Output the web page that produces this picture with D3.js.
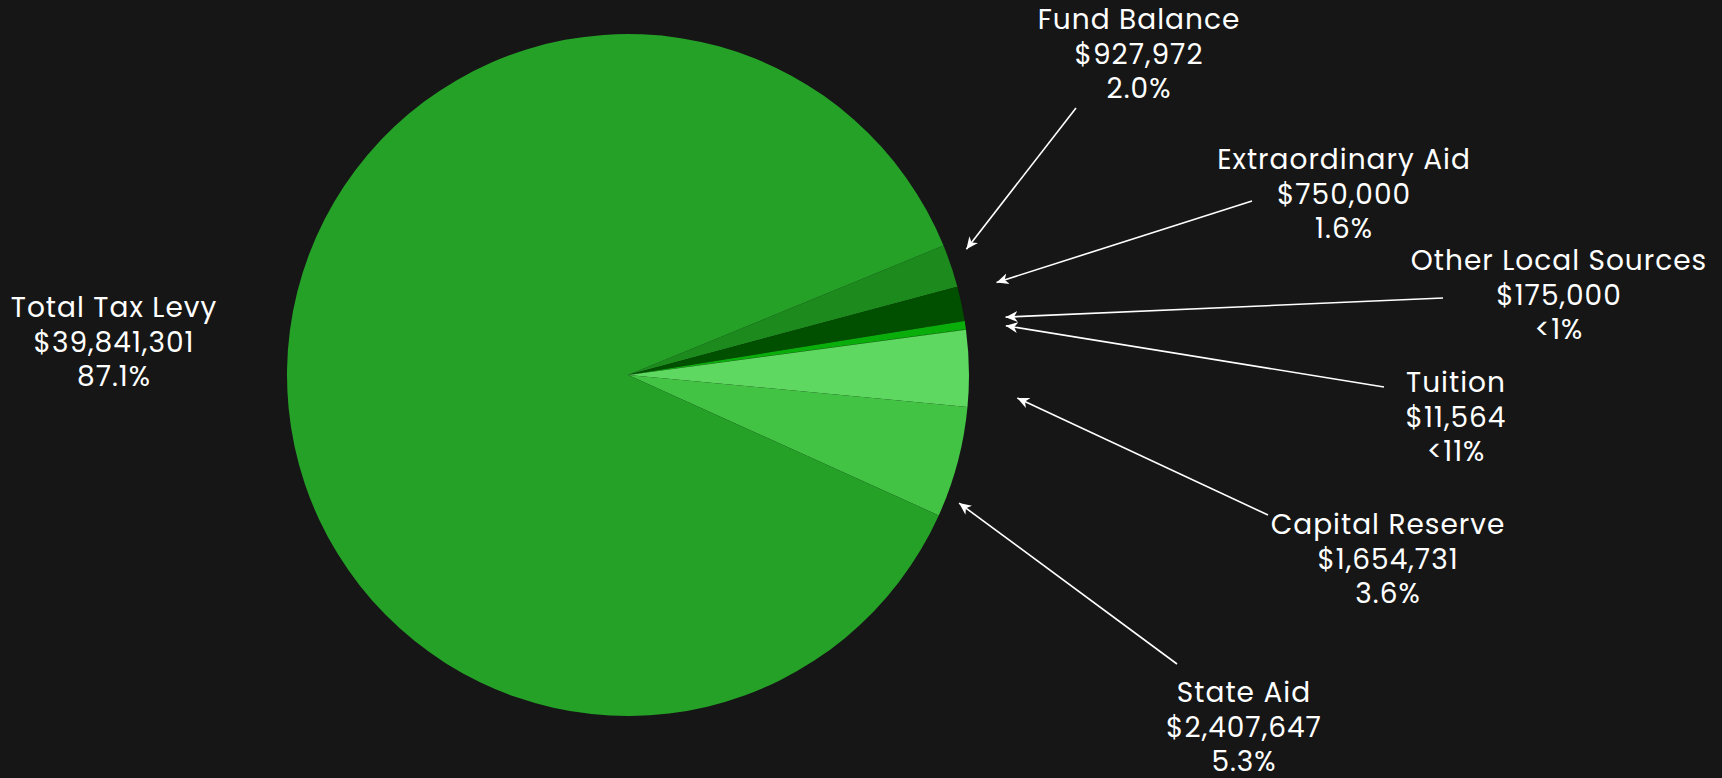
<!DOCTYPE html>
<html>
<head>
<meta charset="utf-8">
<script src="https://cdn.jsdelivr.net/npm/d3@7/dist/d3.min.js"></script>
<style>
  html, body { margin: 0; padding: 0; background: #161616; }
  svg { display: block; }
  text { font-family: Poppins, "DejaVu Sans", sans-serif; fill: #ffffff; }
</style>
</head>
<body>
<svg id="chart" width="1722" height="778"></svg>
<script>
// ---- data ----
const categories = ["Fund Balance", "Extraordinary Aid", "Other Local Sources", "Tuition", "Capital Reserve", "State Aid", "Total Tax Levy"];
const values = [927972, 750000, 175000, 11564, 1654731, 2407647, 39841301];
const valueLabels = ["$927,972", "$750,000", "$175,000", "$11,564", "$1,654,731", "$2,407,647", "$39,841,301"];
const pctLabels = ["2.0%", "1.6%", "<1%", "<11%", "3.6%", "5.3%", "87.1%"];
const colors = ["#1c8a1c", "#005000", "#0aae0a", "#0aae0a", "#5ed860", "#43c343", "#25a128"];

// ---- layout (annotation placement) ----
const cx = 628, cy = 375, R = 341;
const startDeg = 67.7;
// label center x, first-line center y
const labelPos = [[1139, 19], [1344, 159], [1559, 260], [1456, 382], [1388, 524], [1244, 692], [114, 307]];
// arrow start points (null = no arrow)
const arrowStart = [[1076, 108], [1252, 201], [1443, 298], [1384, 387], [1268, 515], [1177, 664], null];
// arrow tip: angle offset from slice mid (deg) and radius
const arrowTip = [[-1.75, 361], [-2.05, 380], [-0.3, 382], [0.25, 381], [4.5, 390], [6.3, 355], null];
const lineH = 34.5;

const svg = d3.select("#chart");
svg.append("rect").attr("width", 1722).attr("height", 778).attr("fill", "#161616");

const defs = svg.append("defs");
defs.append("marker")
  .attr("id", "arrow")
  .attr("viewBox", "-12 -6 14 12")
  .attr("markerWidth", 14).attr("markerHeight", 12)
  .attr("markerUnits", "userSpaceOnUse")
  .attr("refX", 0).attr("refY", 0)
  .attr("orient", "auto")
  .append("path")
  .attr("d", "M0,0 L-12,-5.5 L-8.5,0 L-12,5.5 Z")
  .attr("fill", "#ffffff");

const data = categories.map((c, i) => ({ cat: c, value: values[i], i }));
const toRad = d => d * Math.PI / 180;
const pie = d3.pie().sort(null).value(d => d.value)
  .startAngle(toRad(startDeg)).endAngle(toRad(startDeg) + 2 * Math.PI);
const arcs = pie(data);
const arc = d3.arc().innerRadius(0).outerRadius(R);

const g = svg.append("g").attr("transform", `translate(${cx},${cy})`);
g.selectAll("path.slice").data(arcs).enter().append("path")
  .attr("class", "slice")
  .attr("d", arc)
  .attr("fill", d => colors[d.data.i]);

// arrows
arcs.forEach(a => {
  const i = a.data.i;
  if (!arrowStart[i]) return;
  const mid = (a.startAngle + a.endAngle) / 2 + toRad(arrowTip[i][0]);
  const r = arrowTip[i][1];
  const tx = cx + r * Math.sin(mid), ty = cy - r * Math.cos(mid);
  svg.append("line")
    .attr("x1", arrowStart[i][0]).attr("y1", arrowStart[i][1])
    .attr("x2", tx).attr("y2", ty)
    .attr("stroke", "#ffffff").attr("stroke-width", 1.6)
    .attr("marker-end", "url(#arrow)");
});

// labels
categories.forEach((c, i) => {
  const [lx, ly] = labelPos[i];
  const t = svg.append("text")
    .attr("x", lx).attr("y", ly)
    .attr("text-anchor", "middle")
    .attr("dominant-baseline", "central")
    .style("font-size", "28px")
    .style("letter-spacing", "1px");
  [c, valueLabels[i], pctLabels[i]].forEach((s, k) => {
    t.append("tspan").attr("x", lx).attr("y", ly + k * lineH).text(s);
  });
});
</script>
</body>
</html>
